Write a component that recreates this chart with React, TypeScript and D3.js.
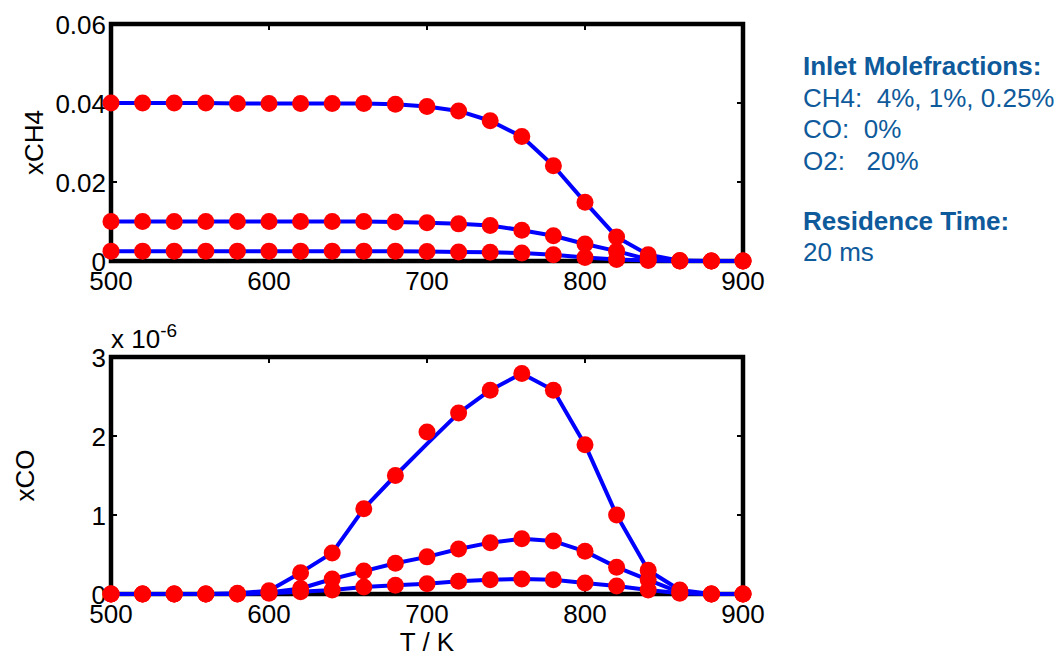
import React from "react";
import * as d3 from "d3";

// Temperatures (K)
const temps = [500, 520, 540, 560, 580, 600, 620, 640, 660, 680, 700, 720, 740, 760, 780, 800, 820, 840, 860, 880, 900];

// CH4 mole fraction, inlet 4%, 1%, 0.25%
const ch4_4 = [0.0400, 0.0400, 0.0400, 0.0400, 0.0399, 0.0399, 0.0399, 0.0399, 0.0399, 0.0397, 0.0391, 0.0380, 0.0355, 0.0315, 0.0241, 0.0149, 0.0061, 0.0016, 0.0001, 0, 0];
const ch4_1 = [0.0100, 0.0100, 0.0100, 0.0100, 0.0100, 0.0100, 0.0100, 0.0100, 0.0100, 0.0099, 0.0097, 0.0094, 0.0090, 0.0078, 0.0064, 0.0043, 0.0025, 0.0004, 0, 0, 0];
const ch4_025 = [0.0025, 0.0025, 0.0025, 0.0025, 0.0025, 0.0025, 0.0025, 0.0025, 0.0025, 0.0025, 0.0024, 0.0023, 0.0022, 0.0020, 0.0016, 0.0009, 0.0004, 0.0001, 0, 0, 0];

// CO mole fraction (x 1e-6), markers
const co_4 = [0, 0, 0, 0, 0.01, 0.04, 0.27, 0.52, 1.08, 1.50, 2.05, 2.29, 2.58, 2.79, 2.58, 1.89, 1.00, 0.30, 0.05, 0, 0];
const co_1 = [0, 0, 0, 0, 0, 0.02, 0.07, 0.19, 0.29, 0.39, 0.47, 0.57, 0.65, 0.70, 0.67, 0.54, 0.34, 0.18, 0.02, 0, 0];
const co_025 = [0, 0, 0, 0, 0, 0.01, 0.03, 0.05, 0.09, 0.11, 0.13, 0.16, 0.18, 0.19, 0.18, 0.14, 0.10, 0.05, 0.01, 0, 0];
// CO line for the 4% case (line and markers differ at 700 K)
const co_4_line = [0, 0, 0, 0, 0.01, 0.04, 0.27, 0.52, 1.08, 1.50, 1.90, 2.29, 2.58, 2.79, 2.58, 1.89, 1.00, 0.30, 0.05, 0, 0];

const xTicks = [500, 600, 700, 800, 900];
const ch4Ticks = [0, 0.02, 0.04, 0.06];
const ch4TickLabels = ["0", "0.02", "0.04", "0.06"];
const coTicks = [0, 1, 2, 3];
const coTickLabels = ["0", "1", "2", "3"];

const noteLines = [
  { text: "Inlet Molefractions:", bold: true },
  { text: "CH4:  4%, 1%, 0.25%", bold: false },
  { text: "CO:  0%", bold: false },
  { text: "O2:   20%", bold: false },
  { text: "", bold: false },
  { text: "Residence Time:", bold: true },
  { text: "20 ms", bold: false },
];

const FONT = "'Liberation Sans', Arial, Helvetica, sans-serif";
const NOTE_COLOR = "#0E5A9B";

type PanelProps = {
  top: number;
  bottom: number;
  yMax: number;
  yTicks: number[];
  yLabels: string[];
  lineSeries: number[][];
  markerSeries: number[][];
  yTitle: string;
  yTitleX: number;
};

const LEFT = 111;
const RIGHT = 743;
const x = d3.scaleLinear().domain([500, 900]).range([LEFT, RIGHT]);

function Panel({ top, bottom, yMax, yTicks, yLabels, lineSeries, markerSeries, yTitle, yTitleX }: PanelProps) {
  const y = d3.scaleLinear().domain([0, yMax]).range([bottom, top]);
  const line = d3
    .line<number>()
    .x((_, i) => x(temps[i]))
    .y((d) => y(d));
  const tickLen = 6;
  return (
    <g>
      {xTicks.map((t) => (
        <g key={"xt" + t}>
          <line x1={x(t)} x2={x(t)} y1={top} y2={top + tickLen} stroke="#000" strokeWidth={2} />
          <line x1={x(t)} x2={x(t)} y1={bottom} y2={bottom - tickLen} stroke="#000" strokeWidth={2} />
          <text x={x(t)} y={bottom + 29} textAnchor="middle" fontSize={26} fontFamily={FONT} fill="#000">
            {t}
          </text>
        </g>
      ))}
      {yTicks.map((t, i) => (
        <g key={"yt" + t}>
          <line x1={LEFT} x2={LEFT + tickLen} y1={y(t)} y2={y(t)} stroke="#000" strokeWidth={2} />
          <line x1={RIGHT} x2={RIGHT - tickLen} y1={y(t)} y2={y(t)} stroke="#000" strokeWidth={2} />
          <text x={LEFT - 5} y={y(t) + 10} textAnchor="end" fontSize={26} fontFamily={FONT} fill="#000">
            {yLabels[i]}
          </text>
        </g>
      ))}
      <rect x={LEFT} y={top} width={RIGHT - LEFT} height={bottom - top} fill="none" stroke="#000" strokeWidth={4.5} />
      <text
        transform={`translate(${yTitleX},${(top + bottom) / 2}) rotate(-90)`}
        textAnchor="middle"
        fontSize={26}
        fontFamily={FONT}
        fill="#000"
      >
        {yTitle}
      </text>
      {lineSeries.map((s, k) => (
        <path key={"l" + k} d={line(s) || ""} fill="none" stroke="#0000FF" strokeWidth={4} strokeLinejoin="round" />
      ))}
      {markerSeries.map((s, k) => (
        <g key={"m" + k}>
          {s.map((v, i) => (
            <circle key={i} cx={x(temps[i])} cy={y(v)} r={8.5} fill="#FF0000" />
          ))}
        </g>
      ))}
    </g>
  );
}

export default function App() {
  return (
    <svg
      width={1058}
      height={652}
      viewBox="0 0 1058 652"
      style={{ position: "absolute", left: 0, top: 0, background: "#fff" }}
    >
      <rect x={0} y={0} width={1058} height={652} fill="#fff" />
      <Panel
        top={24}
        bottom={261}
        yMax={0.06}
        yTicks={ch4Ticks}
        yLabels={ch4TickLabels}
        lineSeries={[ch4_4, ch4_1, ch4_025]}
        markerSeries={[ch4_4, ch4_1, ch4_025]}
        yTitle="xCH4"
        yTitleX={43}
      />
      <Panel
        top={357}
        bottom={594}
        yMax={3}
        yTicks={coTicks}
        yLabels={coTickLabels}
        lineSeries={[co_4_line, co_1, co_025]}
        markerSeries={[co_4, co_1, co_025]}
        yTitle="xCO"
        yTitleX={34}
      />
      <text x={111} y={348} fontSize={26} fontFamily={FONT} fill="#000">
        x 10
        <tspan dy={-11} fontSize={19}>
          -6
        </tspan>
      </text>
      <text x={427} y={651} textAnchor="middle" fontSize={26} fontFamily={FONT} fill="#000">
        T / K
      </text>
      {noteLines.map((l, i) => (
        <text
          key={i}
          x={803}
          y={75 + i * 31.5 - (i >= 5 ? 3 : 0)}
          fontSize={26}
          fontWeight={l.bold ? "bold" : "normal"}
          fontFamily={FONT}
          fill={NOTE_COLOR}
          style={{ whiteSpace: "pre" }}
        >
          {l.text}
        </text>
      ))}
    </svg>
  );
}
